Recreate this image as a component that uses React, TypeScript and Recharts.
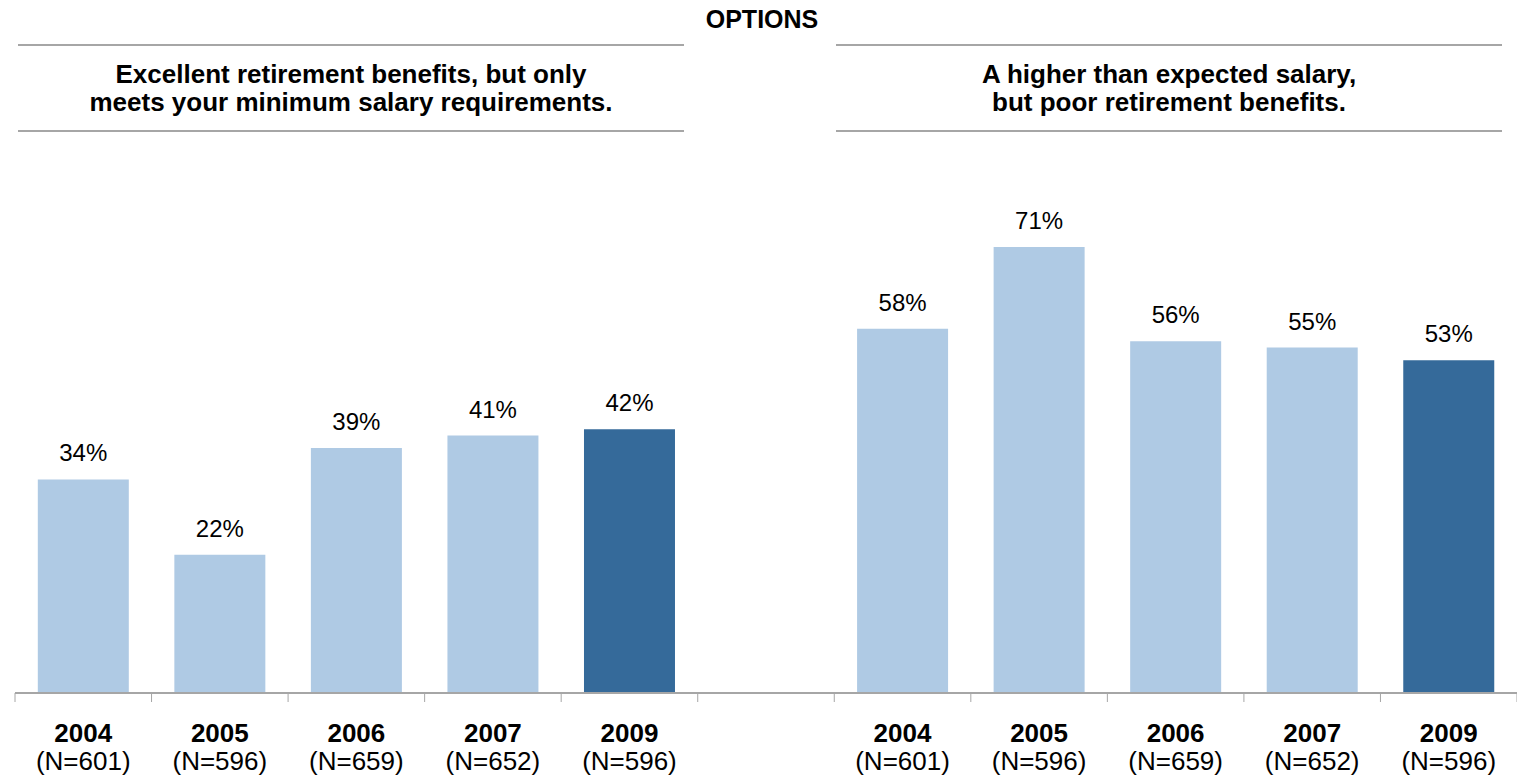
import { BarChart, Bar, XAxis, YAxis, Cell, LabelList } from "recharts";

const years = ["2004", "2005", "2006", "2007", "2009"];
const sampleSizes = ["(N=601)", "(N=596)", "(N=659)", "(N=652)", "(N=596)"];
const retirementValues = [34, 22, 39, 41, 42];
const salaryValues = [58, 71, 56, 55, 53];
const highlightYear = "2009";

const leftTitle = ["Excellent retirement benefits, but only", "meets your minimum salary requirements."];
const rightTitle = ["A higher than expected salary,", "but poor retirement benefits."];

const W = 1517;
const H = 778;
const MARGIN = { top: 65, right: 0, bottom: 0, left: 15 };
const AXIS_H = 85;
const FONT = "'Liberation Sans', Arial, sans-serif";
const LIGHT = "#AFCAE4";
const DARK = "#356A9A";
const RULE = "#A6A6A6";

// left group, empty gap slot, right group
const data = [
    ...years.map((y, i) => ({ key: `L${y}`, year: y, n: sampleSizes[i], value: retirementValues[i] })),
    { key: "gap", year: "", n: "", value: null as number | null },
    ...years.map((y, i) => ({ key: `R${y}`, year: y, n: sampleSizes[i], value: salaryValues[i] })),
];

const BAND = (W - MARGIN.left - MARGIN.right) / data.length;

const YearTick = ({ x, payload, index }: any) => {
    const row = data[index] ?? data.find((d) => d.key === payload.value);
    const top = H - AXIS_H;
    return (
        <g>
            <line x1={x - BAND / 2} x2={x - BAND / 2} y1={top} y2={top + 9} stroke={RULE} strokeWidth={1} />
            {index === data.length - 1 && (
                <line x1={x + BAND / 2} x2={x + BAND / 2} y1={top} y2={top + 9} stroke={RULE} strokeWidth={1} />
            )}
            <text x={x} y={top + 49} textAnchor="middle" fontFamily={FONT} fontSize={26} fontWeight="bold" fill="#000">
                {row?.year}
            </text>
            <text x={x} y={top + 77} textAnchor="middle" fontFamily={FONT} fontSize={26} fill="#000">
                {row?.n}
            </text>
        </g>
    );
};

const Heading = ({ lines, center }: { lines: string[]; center: number }) => (
    <div
        style={{
            position: "absolute",
            left: center - 333,
            top: 44,
            width: 666,
            height: 88,
            borderTop: `2px solid ${RULE}`,
            borderBottom: `2px solid ${RULE}`,
            boxSizing: "border-box",
            display: "flex",
            flexDirection: "column",
            justifyContent: "center",
            alignItems: "center",
            fontFamily: FONT,
            fontWeight: "bold",
            fontSize: 26,
            lineHeight: "28px",
            color: "#000",
        }}
    >
        {lines.map((l) => (
            <div key={l}>{l}</div>
        ))}
    </div>
);

export default function App() {
    return (
        <div style={{ position: "absolute", left: 0, top: 0, width: W, height: H, background: "#fff" }}>
            <div
                style={{
                    position: "absolute",
                    left: 0,
                    top: 5,
                    width: 1524,
                    textAlign: "center",
                    fontFamily: FONT,
                    fontWeight: "bold",
                    fontSize: 25,
                    color: "#000",
                }}
            >
                OPTIONS
            </div>
            <Heading lines={leftTitle} center={351} />
            <Heading lines={rightTitle} center={1169} />
            <div style={{ position: "absolute", left: 0, top: 0 }}>
                <BarChart width={W} height={H} data={data} margin={MARGIN} barCategoryGap="16.7%">
                    <XAxis
                        dataKey="key"
                        interval={0}
                        height={AXIS_H}
                        tickLine={false}
                        axisLine={{ stroke: RULE, strokeWidth: 2 }}
                        tick={<YearTick />}
                    />
                    <YAxis hide domain={[0, 100]} />
                    <Bar dataKey="value" isAnimationActive={false}>
                        {data.map((d) => (
                            <Cell key={d.key} fill={d.year === highlightYear ? DARK : LIGHT} />
                        ))}
                        <LabelList
                            dataKey="value"
                            position="top"
                            offset={18}
                            formatter={(v: any) => (v == null ? "" : `${v}%`)}
                            style={{ fontFamily: FONT, fontSize: 24, fill: "#000" }}
                        />
                    </Bar>
                </BarChart>
            </div>
        </div>
    );
}
